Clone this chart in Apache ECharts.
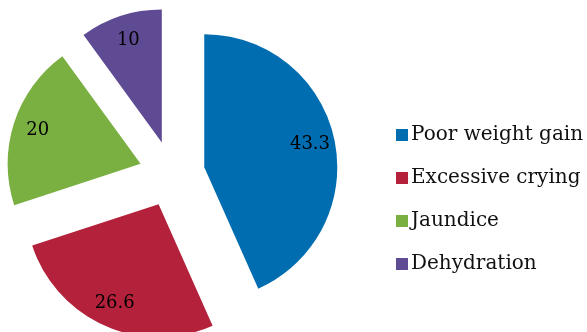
<!DOCTYPE html>
<html>
<head>
<meta charset="utf-8">
<script src="https://cdn.jsdelivr.net/npm/echarts@6/dist/echarts.min.js"></script>
<style>
  html, body { margin: 0; padding: 0; background: #fff; }
  #chart { width: 587px; height: 332px; }
</style>
</head>
<body>
<div id="chart"></div>
<script>
// Causes and their share (%)
const categories = ['Poor weight gain', 'Excessive crying', 'Jaundice', 'Dehydration'];
const values = [43.3, 26.6, 20, 10];
const colors = ['#006DB1', '#B3213A', '#7AAF42', '#5F4A94'];

const FONT = '"DejaVu Serif", "Liberation Serif", serif';
const CENTER = [172, 174];
const R = 133;
const OFFSET = 33;

const sliceData = categories.map((name, i) => ({
  name,
  value: values[i],
  selected: true,
  itemStyle: { color: colors[i] }
}));

// Transparent ring carrying the value labels, so they sit further out in each slice
const labelData = categories.map((name, i) => ({
  name,
  value: values[i],
  selected: true
}));

const chart = echarts.init(document.getElementById('chart'), null, { renderer: 'canvas' });
chart.setOption({
  animation: false,
  backgroundColor: '#ffffff',
  legend: {
    orient: 'vertical',
    left: 391,
    top: 120,
    data: categories,
    itemWidth: 12,
    itemHeight: 12,
    itemGap: 23,
    icon: 'rect',
    selectedMode: false,
    textStyle: { fontFamily: FONT, fontSize: 20, color: '#111', padding: [0, 0, 0, -2] }
  },
  series: [
    {
      type: 'pie',
      center: CENTER,
      radius: [0, R],
      startAngle: 90,
      clockwise: true,
      selectedMode: 'multiple',
      selectedOffset: OFFSET,
      silent: true,
      label: { show: false },
      labelLine: { show: false },
      select: { itemStyle: { borderWidth: 0 } },
      data: sliceData
    },
    {
      type: 'pie',
      center: CENTER,
      radius: [R * 0.58, R],
      startAngle: 90,
      clockwise: true,
      selectedMode: 'multiple',
      selectedOffset: OFFSET,
      silent: true,
      itemStyle: { color: 'rgba(0,0,0,0)' },
      label: {
        show: true,
        position: 'inside',
        formatter: p => String(p.value),
        fontFamily: FONT,
        fontSize: 18,
        color: '#000',
        padding: [5, 0, 0, 0]
      },
      labelLine: { show: false },
      data: labelData
    }
  ]
});
</script>
</body>
</html>
